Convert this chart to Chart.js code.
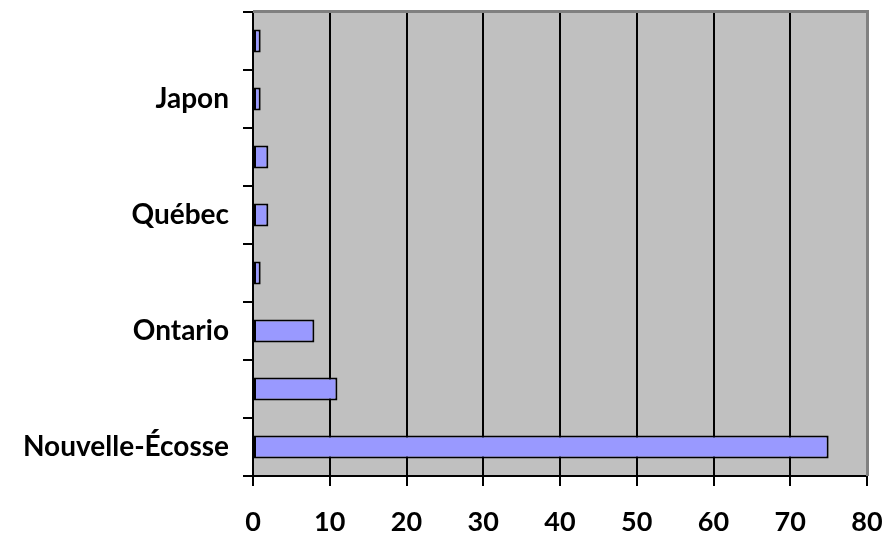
<!DOCTYPE html>
<html>
<head>
<meta charset="utf-8">
<script src="https://cdn.jsdelivr.net/npm/chart.js@4/dist/chart.umd.min.js"></script>
<style>
  html, body { margin: 0; padding: 0; background: #fff; }
  #wrap { width: 885px; height: 539px; }
</style>
</head>
<body>
<div id="wrap"><canvas id="chart"></canvas></div>
<script>
// categories listed top to bottom; only every other one carries a label
const categories = ['', 'Japon', '', 'Québec', '', 'Ontario', '', 'Nouvelle-Écosse'];
const values = [1, 1, 2, 2, 1, 8, 11, 75];
const xTicks = [0, 10, 20, 30, 40, 50, 60, 70, 80];

const plot_frame = {
    id: 'plot_frame',
    beforeDraw: (chart) => {
        const a = chart.chartArea;
        const ctx = chart.ctx;
        ctx.save();
        ctx.fillStyle = '#C0C0C0';
        ctx.fillRect(a.left, a.top, a.right - a.left, a.bottom - a.top);
        ctx.restore();
    },
    beforeDatasetsDraw: (chart) => {
        const a = chart.chartArea;
        const ctx = chart.ctx;
        ctx.save();
        ctx.strokeStyle = '#808080';
        ctx.lineWidth = 3;
        ctx.beginPath();
        ctx.moveTo(a.left, a.top - 0.5);
        ctx.lineTo(a.right + 0.5, a.top - 0.5);
        ctx.lineTo(a.right + 0.5, a.bottom);
        ctx.stroke();
        ctx.restore();
    }
};

Chart.defaults.color = '#000';
Chart.defaults.font.family = 'Lato, "Open Sans", sans-serif';

new Chart(document.getElementById('chart').getContext('2d'), {
    type: 'bar',
    data: {
        labels: categories,
        datasets: [{
            data: values,
            backgroundColor: '#9999FF',
            borderColor: '#000',
            borderWidth: 2,
            borderSkipped: false,
            barPercentage: 0.4,
            categoryPercentage: 1.0
        }]
    },
    options: {
        indexAxis: 'y',
        animation: false,
        responsive: true,
        maintainAspectRatio: false,
        layout: { padding: { top: 12, right: 18, left: 0, bottom: 0 } },
        plugins: {
            legend: { display: false },
            tooltip: { enabled: false }
        },
        scales: {
            x: {
                min: 0,
                max: 80,
                afterBuildTicks: (scale) => {
                    scale.ticks = xTicks.map(v => ({ value: v }));
                },
                afterFit: (scale) => {
                    scale.height = 63;
                    scale.paddingLeft = 0;
                    scale.paddingRight = 0;
                },
                grid: {
                    color: (c) => (c.tick && c.tick.value === 80) ? 'rgba(0,0,0,0)' : '#000',
                    lineWidth: 2,
                    tickColor: '#000',
                    tickLength: 10
                },
                border: { color: '#000', width: 2 },
                ticks: {
                    padding: 20,
                    font: { size: 27, weight: 'bold' }
                }
            },
            y: {
                afterFit: (scale) => {
                    scale.width = 253;
                    scale.paddingTop = 0;
                    scale.paddingBottom = 0;
                },
                grid: {
                    drawOnChartArea: false,
                    tickColor: '#000',
                    lineWidth: 2,
                    tickLength: 10
                },
                border: { color: '#000', width: 2 },
                ticks: {
                    padding: 14,
                    font: { size: 28, weight: 'bold' }
                }
            }
        }
    },
    plugins: [plot_frame]
});
</script>
</body>
</html>
